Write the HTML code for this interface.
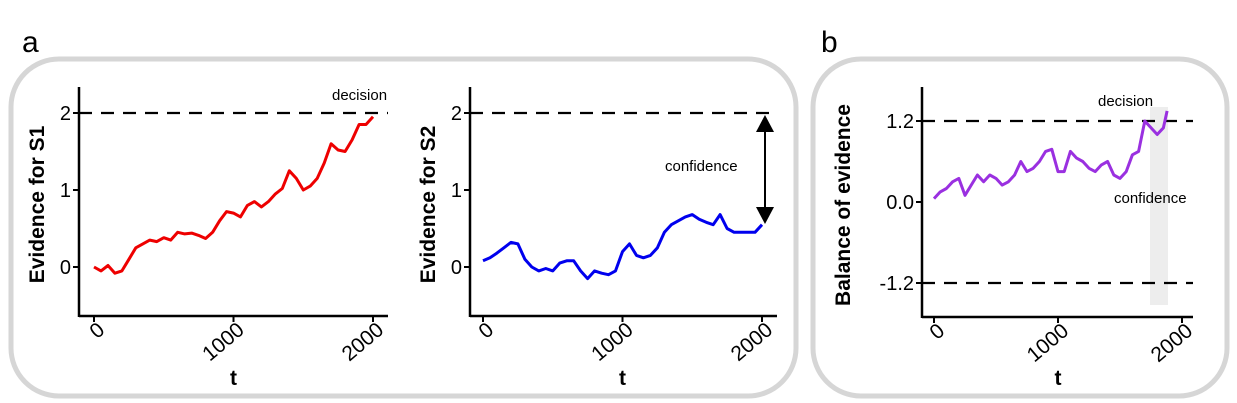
<!DOCTYPE html>
<html><head><meta charset="utf-8"><style>
body{margin:0;background:#fff;}
svg{display:block;font-family:"Liberation Sans",Arial,sans-serif;}
</style></head><body>
<svg id="fig" width="1237" height="403" viewBox="0 0 1237 403" xmlns="http://www.w3.org/2000/svg">
<text x="22" y="52" font-size="30">a</text>
<text x="821" y="52" font-size="30">b</text>
<rect x="11" y="59" width="785" height="337" rx="48" fill="none" stroke="#d6d6d6" stroke-width="5"/>
<rect x="813" y="59" width="414" height="337" rx="48" fill="none" stroke="#d6d6d6" stroke-width="5"/>
<g id="g"></g>
</svg>
<script>
const tRB = [0,50,100,150,200,250,300,350,400,450,500,550,600,650,700,750,800,850,900,950,1000,1050,1100,1150,1200,1250,1300,1350,1400,1450,1500,1550,1600,1650,1700,1750,1800,1850,1900,1950,2000];
const redVals = [0,-0.05,0.02,-0.08,-0.05,0.1,0.25,0.3,0.35,0.33,0.38,0.35,0.45,0.43,0.44,0.41,0.37,0.45,0.6,0.72,0.7,0.65,0.8,0.85,0.78,0.85,0.95,1.02,1.25,1.15,1.0,1.05,1.15,1.35,1.6,1.52,1.5,1.65,1.85,1.85,1.95];
const blueVals = [0.08,0.12,0.18,0.25,0.32,0.3,0.1,0.0,-0.05,-0.02,-0.05,0.05,0.08,0.08,-0.05,-0.15,-0.05,-0.08,-0.1,-0.05,0.2,0.3,0.15,0.12,0.15,0.25,0.45,0.55,0.6,0.65,0.68,0.62,0.58,0.55,0.68,0.5,0.45,0.45,0.45,0.45,0.55];
const tP = [0,50,100,150,200,250,300,350,400,450,500,550,600,650,700,750,800,850,900,950,1000,1050,1100,1150,1200,1250,1300,1350,1400,1450,1500,1550,1600,1650,1700,1750,1800,1850,1880];
const purpleVals = [0.05,0.15,0.2,0.3,0.35,0.1,0.25,0.4,0.3,0.4,0.35,0.25,0.3,0.4,0.6,0.45,0.5,0.6,0.75,0.78,0.45,0.45,0.75,0.65,0.6,0.5,0.45,0.55,0.6,0.4,0.35,0.45,0.7,0.75,1.2,1.1,1.0,1.1,1.35];
const xTicks = [0,1000,2000];
const ticksA = [0,1,2];
const ticksB = [-1.2,0,1.2];

const NS="http://www.w3.org/2000/svg";
const g=document.getElementById('g');
function mk(tag,attrs,parent){const e=document.createElementNS(NS,tag);for(const k in attrs)e.setAttribute(k,attrs[k]);(parent||g).appendChild(e);return e;}

function panel(o){
  const sx=t=>o.x0+(t)*(o.x2000-o.x0)/2000;
  const sy=v=>o.yZero-v*o.ppu;
  const grp=mk('g',{});
  
  
  if(o.band){const b=mk('rect',{x:o.band[0],y:o.band[1],width:o.band[2],height:o.band[3],fill:'#ededed'},grp);
    
    }
  o.dashes.forEach(v=>{const l=mk('line',{x1:o.ax,x2:o.axEnd,y1:sy(v),y2:sy(v),stroke:'#000','stroke-width':2.2,'stroke-dasharray':'13,9'},grp);
    
    });
  const ya=mk('line',{x1:o.ax,x2:o.ax,y1:o.top,y2:o.bot+1,stroke:'#000','stroke-width':2.5},grp);
  
  
  const xa=mk('line',{x1:o.ax,x2:o.axEnd,y1:o.bot,y2:o.bot,stroke:'#000','stroke-width':2.5},grp);
  
  
  o.yt.forEach(v=>{
    mk('line',{x1:o.ax-6,x2:o.ax,y1:sy(v),y2:sy(v),stroke:'#000','stroke-width':2},grp);
    const t=mk('text',{x:o.ax-8,y:sy(v)+7,'font-size':20,'text-anchor':'end'},grp);
    t.textContent=o.fmt(v);
    
    
  });
  xTicks.forEach(v=>{
    const x=sx(v);
    mk('line',{x1:x,x2:x,y1:o.bot,y2:o.bot+6,stroke:'#000','stroke-width':2},grp);
    const ax=x+12,ay=o.bot+16;
    const t=mk('text',{x:ax,y:ay,'font-size':21,'text-anchor':'end',transform:`rotate(-40 ${ax} ${ay})`},grp);
    t.textContent=v;
    
    
  });
  const xt=mk('text',{x:(o.x0+o.x2000)/2,y:385,'font-size':21,'font-weight':'bold','text-anchor':'middle'},grp);
  xt.textContent='t';
  
  
  const yx=o.ax-o.tOff,ym=(o.top+o.bot)/2+3;
  const yt=mk('text',{x:yx,y:ym,'font-size':21,'font-weight':'bold','text-anchor':'middle',transform:`rotate(-90 ${yx} ${ym})`},grp);
  yt.textContent=o.ytitle;
  
  
  const d=o.ts.map((t,i)=>(i?'L':'M')+sx(t).toFixed(1)+','+sy(o.vals[i]).toFixed(1)).join('');
  const p=mk('path',{d:d,fill:'none',stroke:o.color,'stroke-width':3,'stroke-linejoin':'round'},grp);
  
  
  return {sx,sy};
}
panel({name:'s1-chart',x0:94,x2000:373,ax:79,axEnd:388,top:87,bot:316,yZero:267,ppu:77,yt:ticksA,dashes:[2],fmt:v=>String(v),ytitle:'Evidence for S1',ts:tRB,vals:redVals,color:'#ee0000',tOff:35});
panel({name:'s2-chart',x0:483,x2000:762,ax:470,axEnd:777,top:87,bot:316,yZero:267,ppu:77,yt:ticksA,dashes:[2],fmt:v=>String(v),ytitle:'Evidence for S2',ts:tRB,vals:blueVals,color:'#0000ee',tOff:35});
panel({name:'balance-chart',x0:934,x2000:1182,ax:922,axEnd:1193,top:87,bot:317,yZero:202,ppu:67.5,yt:ticksB,dashes:[1.2,-1.2],fmt:v=>v.toFixed(1),ytitle:'Balance of evidence',ts:tP,vals:purpleVals,color:'#9a30e0',band:[1150,107,18,198],tOff:72});

function txt(x,y,s,name){const t=mk('text',{x:x,y:y,'font-size':15});t.textContent=s;
  
  }
txt(332,100,'decision','decision-label-a');
txt(665,171,'confidence','confidence-label-a');
txt(1098,106,'decision','decision-label-b');
txt(1114,203,'confidence','confidence-label-b');
const ar=mk('g',{});


mk('line',{x1:765,x2:765,y1:128,y2:210,stroke:'#000','stroke-width':2},ar);
mk('polygon',{points:'756,132 774,132 765,115',fill:'#000'},ar);
mk('polygon',{points:'756,207 774,207 765,224',fill:'#000'},ar);
</script>
</body></html>
